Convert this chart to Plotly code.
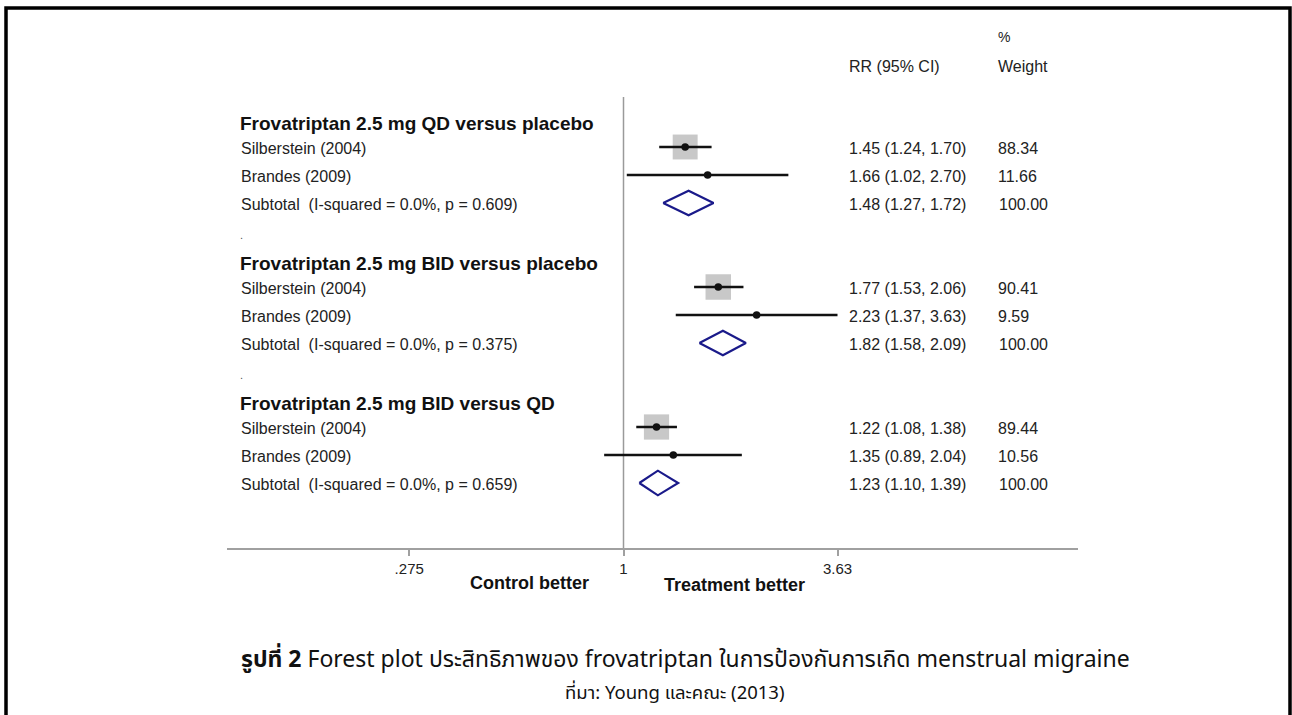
import plotly.graph_objects as go

# ---------------- data ----------------
groups = ["Frovatriptan 2.5 mg QD versus placebo",
          "Frovatriptan 2.5 mg BID versus placebo",
          "Frovatriptan 2.5 mg BID versus QD"]
studies = ["Silberstein (2004)", "Brandes (2009)"]
subtotal_labels = ["Subtotal  (I-squared = 0.0%, p = 0.609)",
                   "Subtotal  (I-squared = 0.0%, p = 0.375)",
                   "Subtotal  (I-squared = 0.0%, p = 0.659)"]
study_rr = [[1.45, 1.66], [1.77, 2.23], [1.22, 1.35]]
study_lo = [[1.24, 1.02], [1.53, 1.37], [1.08, 0.89]]
study_hi = [[1.70, 2.70], [2.06, 3.63], [1.38, 2.04]]
study_wt = [[88.34, 11.66], [90.41, 9.59], [89.44, 10.56]]
sub_rr = [1.48, 1.82, 1.23]
sub_lo = [1.27, 1.58, 1.10]
sub_hi = [1.72, 2.09, 1.39]
sub_wt = [100.00, 100.00, 100.00]
tick_vals = [0.275, 1, 3.63]
tick_text = [".275", "1", "3.63"]

# ---------------- layout constants (pixels) ----------------
W, H = 1292, 715
PL, PR = 227, 1078          # plot area left/right (axis line extent)
PT, PB = 20, 548            # plot area top/bottom (axis line)
X1_PX = 623.5               # pixel of RR = 1
PX_PER_DEC = 382.2          # pixels per decade of RR
ROW0_PX, ROW_H = 147, 28    # first study row pixel / row spacing

xr = [(PL - X1_PX) / PX_PER_DEC, (PR - X1_PX) / PX_PER_DEC]
yr = [(PB - ROW0_PX) / ROW_H, (PT - ROW0_PX) / ROW_H]


def px_x(p):  # pixel -> paper x
    return (p - PL) / (PR - PL)


def px_y(p):  # pixel -> paper y
    return (PB - p) / (PB - PT)


fig = go.Figure()

FONT = "Liberation Sans, Arial, sans-serif"
THAI = "Tahoma, 'Noto Sans Thai', 'Noto Sans', 'DejaVu Sans', sans-serif"
TXT = "#222222"
SMALL = 16
BOLD = 19
annotations = []

box_scale = 25.5 / 90.41
for g in range(3):
    base = g * 5
    annotations.append(dict(xref="paper", yref="y", x=px_x(238), y=base - 0.85,
                            text="<b>" + groups[g] + "</b>", showarrow=False,
                            xanchor="left", yanchor="middle",
                            font=dict(family=FONT, size=BOLD, color="#111111")))
    for s in range(2):
        r = base + s
        rr, lo, hi, wt = study_rr[g][s], study_lo[g][s], study_hi[g][s], study_wt[g][s]
        fig.add_trace(go.Scatter(x=[rr], y=[r], mode="markers",
                                 marker=dict(symbol="square", size=wt * box_scale,
                                             color="#c8c8c8", line=dict(width=0)),
                                 showlegend=False, hoverinfo="skip"))
        fig.add_trace(go.Scatter(x=[lo, hi], y=[r, r], mode="lines",
                                 line=dict(color="#111111", width=2.6),
                                 showlegend=False, hoverinfo="skip"))
        fig.add_trace(go.Scatter(x=[rr], y=[r], mode="markers",
                                 marker=dict(symbol="circle", size=7.5, color="#111111"),
                                 showlegend=False, hoverinfo="skip"))
        annotations.append(dict(xref="paper", yref="y", x=px_x(239), y=r + 0.05,
                                text=studies[s], showarrow=False, xanchor="left",
                                yanchor="middle", font=dict(family=FONT, size=SMALL, color=TXT)))
        annotations.append(dict(xref="paper", yref="y", x=px_x(847), y=r + 0.05,
                                text=f"{rr:.2f} ({lo:.2f}, {hi:.2f})", showarrow=False,
                                xanchor="left", yanchor="middle",
                                font=dict(family=FONT, size=SMALL, color=TXT)))
        annotations.append(dict(xref="paper", yref="y", x=px_x(996), y=r + 0.05,
                                text=f"{wt:.2f}", showarrow=False, xanchor="left",
                                yanchor="middle", font=dict(family=FONT, size=SMALL, color=TXT)))
    r = base + 2
    h = 0.44
    fig.add_trace(go.Scatter(x=[sub_lo[g], sub_rr[g], sub_hi[g], sub_rr[g], sub_lo[g]],
                             y=[r, r - h, r, r + h, r], mode="lines",
                             line=dict(color="#1a1a8a", width=2.2),
                             showlegend=False, hoverinfo="skip"))
    annotations.append(dict(xref="paper", yref="y", x=px_x(239), y=r + 0.05,
                            text=subtotal_labels[g], showarrow=False, xanchor="left",
                            yanchor="middle", font=dict(family=FONT, size=SMALL, color=TXT)))
    annotations.append(dict(xref="paper", yref="y", x=px_x(847), y=r + 0.05,
                            text=f"{sub_rr[g]:.2f} ({sub_lo[g]:.2f}, {sub_hi[g]:.2f})",
                            showarrow=False, xanchor="left", yanchor="middle",
                            font=dict(family=FONT, size=SMALL, color=TXT)))
    annotations.append(dict(xref="paper", yref="y", x=px_x(997), y=r + 0.05,
                            text=f"{sub_wt[g]:.2f}", showarrow=False, xanchor="left",
                            yanchor="middle", font=dict(family=FONT, size=SMALL, color=TXT)))
    if g < 2:
        annotations.append(dict(xref="paper", yref="y", x=px_x(238), y=base + 3.15,
                                text=".", showarrow=False, xanchor="left", yanchor="middle",
                                font=dict(family=FONT, size=11, color="#555555")))

annotations += [
    dict(xref="paper", yref="paper", x=px_x(847), y=px_y(67), text="RR (95% CI)",
         showarrow=False, xanchor="left", yanchor="middle",
         font=dict(family=FONT, size=SMALL, color=TXT)),
    dict(xref="paper", yref="paper", x=px_x(996), y=px_y(37), text="%",
         showarrow=False, xanchor="left", yanchor="middle",
         font=dict(family=FONT, size=SMALL - 2, color=TXT)),
    dict(xref="paper", yref="paper", x=px_x(996), y=px_y(67), text="Weight",
         showarrow=False, xanchor="left", yanchor="middle",
         font=dict(family=FONT, size=SMALL, color=TXT)),
    dict(xref="paper", yref="paper", x=px_x(591), y=px_y(583), text="<b>Control better</b>",
         showarrow=False, xanchor="right", yanchor="middle",
         font=dict(family=FONT, size=BOLD - 1, color="#111111")),
    dict(xref="paper", yref="paper", x=px_x(662), y=px_y(585), text="<b>Treatment better</b>",
         showarrow=False, xanchor="left", yanchor="middle",
         font=dict(family=FONT, size=BOLD - 1, color="#111111")),
    dict(xref="paper", yref="paper", x=px_x(685), y=px_y(660),
         text="<b>รูปที่ 2</b> Forest plot ประสิทธิภาพของ frovatriptan ในการป้องกันการเกิด menstrual migraine",
         showarrow=False, xanchor="center", yanchor="middle",
         font=dict(family=THAI, size=23, color="#111111")),
    dict(xref="paper", yref="paper", x=px_x(675), y=px_y(693),
         text="ที่มา: Young และคณะ (2013)",
         showarrow=False, xanchor="center", yanchor="middle",
         font=dict(family=THAI, size=18.5, color="#111111")),
]

shapes = [
    dict(type="line", xref="x", yref="paper", x0=1, x1=1, y0=0, y1=px_y(97),
         line=dict(color="#9a9a9a", width=1.5), layer="below"),
    dict(type="rect", xref="paper", yref="paper", x0=px_x(6), x1=px_x(1290),
         y0=px_y(730), y1=px_y(8), line=dict(color="black", width=3.5),
         fillcolor="rgba(0,0,0,0)"),
]

fig.update_layout(
    width=W, height=H,
    margin=dict(l=PL, r=W - PR, t=PT, b=H - PB, pad=0),
    paper_bgcolor="white", plot_bgcolor="white",
    showlegend=False,
    annotations=annotations, shapes=shapes,
    xaxis=dict(type="log", range=xr, showgrid=False, zeroline=False,
               showline=True, linecolor="#a0a0a0", linewidth=2,
               ticks="outside", ticklen=6, tickcolor="#a0a0a0", tickwidth=1.5,
               tickvals=tick_vals, ticktext=tick_text,
               tickfont=dict(family=FONT, size=15, color=TXT)),
    yaxis=dict(range=yr, showgrid=False, zeroline=False, showline=False,
               showticklabels=False, ticks=""),
)

fig.write_html("out.html",
               config={"displayModeBar": False},
               post_script="document.body.style.margin='0px';document.body.style.overflow='hidden';")
